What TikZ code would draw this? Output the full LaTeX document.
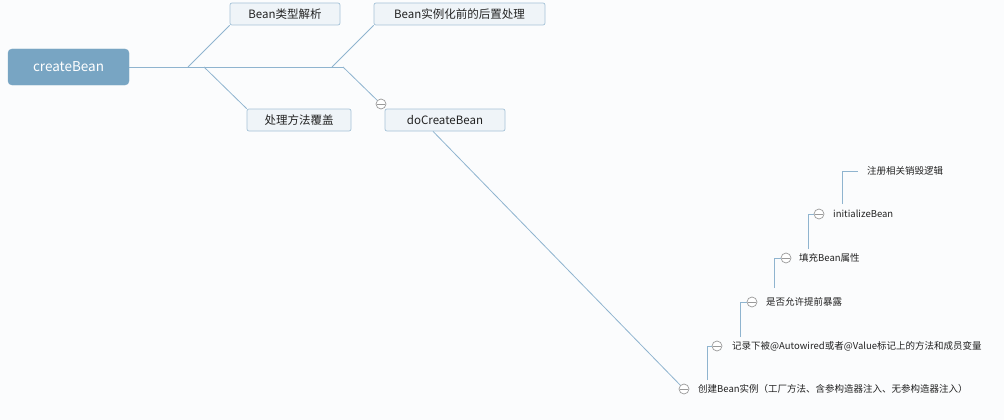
\documentclass[tikz,border=0pt]{standalone}
\usepackage{fontspec}
\setmainfont{Noto Sans CJK SC}
\definecolor{bgc}{HTML}{FBFCFD}
\definecolor{linec}{HTML}{8FB4CF}
\definecolor{boxf}{HTML}{EFF4F8}
\definecolor{boxb}{HTML}{A6C3D8}
\definecolor{rootf}{HTML}{78A5C3}
\definecolor{foldc}{HTML}{9A9A9A}
\definecolor{txtc}{HTML}{222222}
\begin{document}
\begin{tikzpicture}[x=1pt,y=-1pt,
  conn/.style={draw=linec, line width=0.8pt},
  topic/.style={draw=boxb, fill=boxf, rounded corners=2pt, minimum height=22pt, inner sep=0pt, font=\fontsize{11.5}{12}\selectfont, text=txtc, line width=0.7pt},
  rootbox/.style={fill=rootf, draw=rootf, rounded corners=4pt, minimum width=121pt, minimum height=36pt, text=white, font=\fontsize{13.5}{14}\selectfont},
  fold/.style={circle, draw=foldc, fill=white, minimum size=10pt, inner sep=0pt, line width=0.7pt,
    path picture={\draw[foldc, line width=0.7pt] ([xshift=-3.8pt]path picture bounding box.center) -- ([xshift=3.8pt]path picture bounding box.center);}},
  leaf/.style={anchor=west, inner sep=0pt, font=\fontsize{9.5}{10}\selectfont, text=txtc}
]
\useasboundingbox[fill=bgc] (0,0) rectangle (1004,420);

% root and main spine
\node[rootbox] (root) at (68.5,67) {createBean};
\coordinate (j1) at (188,67);
\coordinate (j2) at (204,67);
\coordinate (j3) at (332,67);
\coordinate (j4) at (343,67);

% first level topics
\node[topic, minimum width=110pt] (t1) at (285,14) {Bean类型解析};
\node[topic, minimum width=171pt] (t2) at (459.5,14) {Bean实例化前的后置处理};
\node[topic, minimum width=104pt] (t3) at (299,120) {处理方法覆盖};
\node[topic, minimum width=120pt] (t4) at (445,120) {doCreateBean};
\node[fold] (c1) at (381,104) {};

\draw[conn] (root.east) -- (j4);
\draw[conn] (j1) -- (t1.south west);
\draw[conn] (j2) -- (t3.north west);
\draw[conn] (j3) -- (t2.south west);
\draw[conn] (j4) -- (c1);

% doCreateBean children chain
\node[fold] (c2) at (684,389) {};
\node[leaf] (l1) at (698,389) {创建Bean实例（工厂方法、含参构造器注入、无参构造器注入）};
\node[fold] (c3) at (717,346) {};
\node[leaf] (l2) at (732,346) {记录下被@Autowired或者@Value标记上的方法和成员变量};
\node[fold] (c4) at (752,302) {};
\node[leaf] (l3) at (766,302) {是否允许提前暴露};
\node[fold] (c5) at (786,258) {};
\node[leaf] (l4) at (799,258) {填充Bean属性};
\node[fold] (c6) at (819,214) {};
\node[leaf] (l5) at (833,214) {initializeBean};
\coordinate (e6) at (858,171);
\node[leaf] (l6) at (867,171) {注册相关销毁逻辑};

\draw[conn] ([xshift=-12pt]t4.south) -- (c2);
\draw[conn] ([xshift=23pt,yshift=9pt]c2.center) |- (c3.west);
\draw[conn] ([xshift=23pt,yshift=9pt]c3.center) |- (c4.west);
\draw[conn] ([xshift=22pt,yshift=14pt]c4.center) |- (c5.west);
\draw[conn] ([xshift=22pt,yshift=9pt]c5.center) |- (c6.west);
\draw[conn] ([xshift=23pt,yshift=10pt]c6.center) |- (e6);
\end{tikzpicture}
\end{document}
